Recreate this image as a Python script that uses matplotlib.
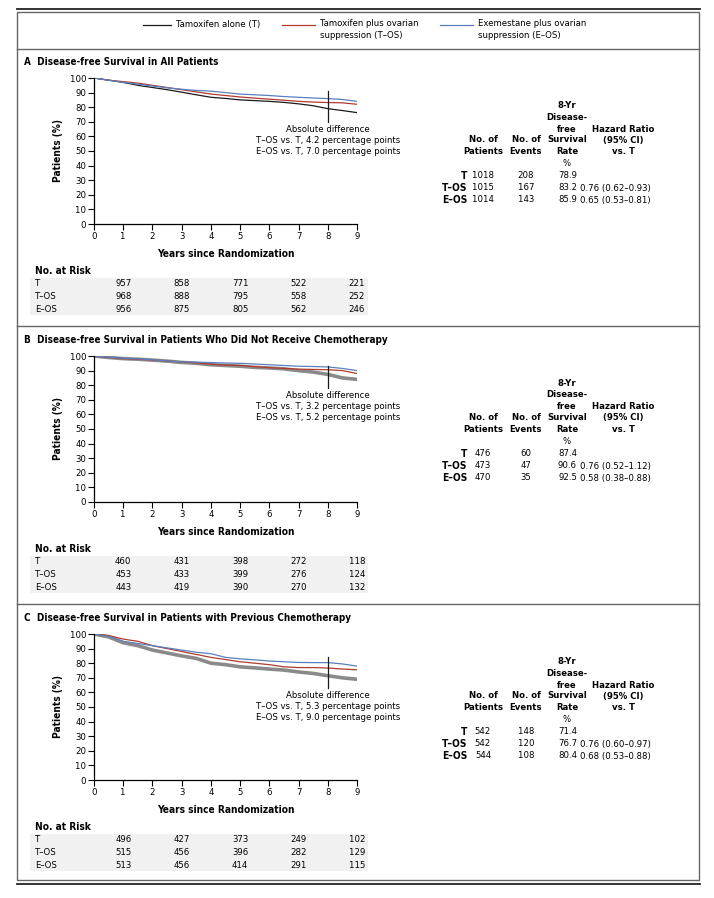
import matplotlib
matplotlib.use("Agg")
import matplotlib.pyplot as plt
from matplotlib import font_manager
from matplotlib.lines import Line2D
from matplotlib.patches import Rectangle
from matplotlib.transforms import blended_transform_factory

# pick a narrow sans if one is installed (reference uses a condensed face)
names = {f.name for f in font_manager.fontManager.ttflist}
cond = [f for f in font_manager.fontManager.ttflist
        if f.name == 'DejaVu Sans' and str(f.stretch) in ('condensed', '500', 'semi-condensed')]
if 'Liberation Sans Narrow' in names:
    plt.rcParams['font.family'] = ['Liberation Sans Narrow', 'DejaVu Sans']
    FS = 7.5
elif cond:
    plt.rcParams['font.family'] = ['DejaVu Sans']
    plt.rcParams['font.stretch'] = 'condensed'
    FS = 6.8
else:
    plt.rcParams['font.family'] = ['Liberation Sans', 'DejaVu Sans']
    FS = 6.6

W, H = 714, 898

# === DATA
years = [0, 0.5, 1, 1.5, 2, 2.5, 3, 3.5, 4, 4.5, 5, 5.5, 6, 6.5, 7, 7.5, 8, 8.5, 9]
groups = ['T', 'T\u2013OS', 'E\u2013OS']

titles = ['A  Disease-free Survival in All Patients',
          'B  Disease-free Survival in Patients Who Did Not Receive Chemotherapy',
          'C  Disease-free Survival in Patients with Previous Chemotherapy']

a_t = [100, 98.5, 97, 95, 93.5, 92, 90.3, 88.5, 86.8, 86, 85, 84.5, 84, 83.3, 82.3, 81, 79, 77.7, 76.3]
a_tos = [100, 98.5, 97.5, 96.5, 95, 93.5, 92, 90.5, 89, 88, 87, 86.2, 85.5, 84.8, 84, 83.5, 83.2, 83, 82]
a_eos = [100, 98.5, 97, 95.8, 94.5, 93.3, 92.3, 91.5, 91, 90, 89, 88.5, 88, 87.3, 86.8, 86.3, 85.9, 85.3, 84]

b_t = [100, 99, 98.2, 97.8, 97.2, 96.5, 95.6, 95, 94, 93.5, 93, 92.2, 91.8, 91.2, 90, 89, 87.4, 85, 84]
b_tos = [100, 99, 98.2, 97.8, 97.3, 96.5, 96, 95.3, 94.3, 93.8, 93.5, 92.7, 92, 91.5, 91, 90.8, 90.6, 90, 88]
b_eos = [100, 99.2, 98.5, 98, 97.5, 96.5, 96, 95.8, 95.5, 95.2, 95, 94.5, 94, 93.5, 93, 92.8, 92.5, 91.5, 90]

c_t = [100, 98, 94, 92, 89, 87, 85, 83.3, 80, 79, 77.5, 76.8, 76, 75.3, 74, 73, 71.4, 70, 69]
c_tos = [100, 99, 96.5, 95, 92, 90, 88, 86, 84, 82.5, 81, 80, 79, 77.5, 77, 77, 76.7, 76, 75.5]
c_eos = [100, 98.5, 95, 93.5, 92, 90.5, 89, 87.5, 86.5, 84, 83, 82.3, 81.5, 81, 80.5, 80.4, 80.4, 79.5, 78]

abs_diff = [('4.2', '7.0'), ('3.2', '5.2'), ('5.3', '9.0')]
diff_bar = [(70, 91), (78, 93), (63, 84)]

risk_years = [1, 3, 5, 7, 9]
a_risk = [[957, 858, 771, 522, 221], [968, 888, 795, 558, 252], [956, 875, 805, 562, 246]]
b_risk = [[460, 431, 398, 272, 118], [453, 433, 399, 276, 124], [443, 419, 390, 270, 132]]
c_risk = [[496, 427, 373, 249, 102], [515, 456, 396, 282, 129], [513, 456, 414, 291, 115]]

a_patients = [1018, 1015, 1014]
a_events = [208, 167, 143]
a_rate = ['78.9', '83.2', '85.9']
a_hr = ['', '0.76 (0.62\u20130.93)', '0.65 (0.53\u20130.81)']
b_patients = [476, 473, 470]
b_events = [60, 47, 35]
b_rate = ['87.4', '90.6', '92.5']
b_hr = ['', '0.76 (0.52\u20131.12)', '0.58 (0.38\u20130.88)']
c_patients = [542, 542, 544]
c_events = [148, 120, 108]
c_rate = ['71.4', '76.7', '80.4']
c_hr = ['', '0.76 (0.60\u20130.97)', '0.68 (0.53\u20130.88)']

panels = [
    (a_t, a_tos, a_eos, a_risk, a_patients, a_events, a_rate, a_hr),
    (b_t, b_tos, b_eos, b_risk, b_patients, b_events, b_rate, b_hr),
    (c_t, c_tos, c_eos, c_risk, c_patients, c_events, c_rate, c_hr),
]

BLACK = '#1a1a1a'
RED = '#b03a2e'
BLUE = '#5a80c0'
GRAY = '#8a8a8a'


def fx(x):
    return x / W


def fy(y):
    return 1 - y / H


fig = plt.figure(figsize=(W / 100, H / 100), dpi=100)

# frame
fig.add_artist(Rectangle((fx(17), fy(880)), fx(699) - fx(17), fy(12) - fy(880),
                         transform=fig.transFigure, fill=False, ec='#666666', lw=1))
fig.add_artist(Line2D([fx(17), fx(700)], [fy(9), fy(9)], transform=fig.transFigure, color='#222222', lw=1.3))
fig.add_artist(Line2D([fx(17), fx(700)], [fy(884), fy(884)], transform=fig.transFigure, color='#222222', lw=1.3))
for sy in [49, 326, 604]:
    fig.add_artist(Line2D([fx(17), fx(699)], [fy(sy), fy(sy)], transform=fig.transFigure, color='#666666', lw=1))

# legend
for (x0, x1, tx, label, col) in [(143, 171, 176, 'Tamoxifen alone (T)', BLACK),
                                  (282, 315, 320, 'Tamoxifen plus ovarian\nsuppression (T\u2013OS)', RED),
                                  (440, 473, 478, 'Exemestane plus ovarian\nsuppression (E\u2013OS)', BLUE)]:
    fig.add_artist(Line2D([fx(x0), fx(x1)], [fy(25), fy(25)], transform=fig.transFigure, color=col, lw=0.9))
    fig.text(fx(tx), fy(19.5), label, fontsize=FS, va='top', ha='left', linespacing=1.35)

for i, (t, tos, eos, risk, pat, ev, rate, hr) in enumerate(panels):
    off = [0, 278, 556][i]
    fig.text(fx(24), fy(62 + off), titles[i], fontsize=FS + 0.3, fontweight='bold', va='center', ha='left')

    ax = fig.add_axes([fx(94), fy(224 + off), fx(357) - fx(94), fy(78) - fy(224)])
    if i == 0:
        ax.plot(years, t, color=BLACK, lw=0.9)
    else:
        ax.plot(years, t, color=GRAY, lw=2.6)
    ax.plot(years, tos, color=RED, lw=0.9)
    ax.plot(years, eos, color=BLUE, lw=0.9)

    ax.set_xlim(0, 9)
    ax.set_ylim(0, 100)
    ax.set_xticks(range(10))
    ax.set_yticks(range(0, 101, 10))
    for s in ['top', 'right']:
        ax.spines[s].set_visible(False)
    for s in ['left', 'bottom']:
        ax.spines[s].set_linewidth(0.9)
        ax.spines[s].set_clip_on(False)
    ax.tick_params(direction='out', length=4, width=0.8, labelsize=FS, pad=1.5)
    ax.set_xlabel('Years since Randomization', fontsize=FS + 0.5, fontweight='bold', labelpad=6)
    ax.set_ylabel('Patients (%)', fontsize=FS + 0.5, fontweight='bold', labelpad=5)

    lo, hi = diff_bar[i]
    ax.plot([8, 8], [lo, hi], color=BLACK, lw=0.9, clip_on=False)
    top = lo - 2
    ax.text(8, top, 'Absolute difference\nT\u2013OS vs. T, %s percentage points\nE\u2013OS vs. T, %s percentage points'
            % abs_diff[i], fontsize=FS, ha='center', va='top', linespacing=1.3, clip_on=False)

    # no. at risk
    fig.text(fx(35), fy(271 + off), 'No. at Risk', fontsize=FS + 0.5, fontweight='bold', va='center')
    fig.add_artist(Rectangle((fx(30), fy(315 + off)), fx(368) - fx(30), fy(278) - fy(315),
                             transform=fig.transFigure, color='#f1f1f1', lw=0, zorder=0))
    tr = blended_transform_factory(ax.transData, fig.transFigure)
    for r, g in enumerate(groups):
        ry = fy(284 + off + r * 12.5)
        fig.text(fx(35), ry, g, fontsize=FS, va='center')
        for yr, n in zip(risk_years, risk[r]):
            fig.text(yr, ry, str(n), fontsize=FS, va='center', ha='center', transform=tr)

    # summary table
    hdr = [(567, 105, '8-Yr'), (567, 117, 'Disease-'), (567, 129, 'free'), (623, 129, 'Hazard Ratio'),
           (483, 140, 'No. of'), (526, 140, 'No. of'), (567, 140, 'Survival'), (623, 140, '(95% CI)'),
           (483, 152, 'Patients'), (526, 152, 'Events'), (567, 152, 'Rate'), (623, 152, 'vs. T')]
    for (hx, hy, s) in hdr:
        fig.text(fx(hx), fy(hy + off), s, fontsize=FS, fontweight='bold', ha='center', va='center')
    fig.text(fx(567), fy(164 + off), '%', fontsize=FS, ha='center', va='center')
    for r, g in enumerate(groups):
        ry = fy(176 + off + r * 12)
        fig.text(fx(467), ry, g, fontsize=FS + 0.5, fontweight='bold', ha='right', va='center')
        fig.text(fx(483), ry, str(pat[r]), fontsize=FS, ha='center', va='center')
        fig.text(fx(526), ry, str(ev[r]), fontsize=FS, ha='center', va='center')
        fig.text(fx(577), ry, rate[r], fontsize=FS, ha='right', va='center')
        fig.text(fx(580), ry, hr[r], fontsize=FS, ha='left', va='center')

plt.savefig('out.png', dpi=100)
